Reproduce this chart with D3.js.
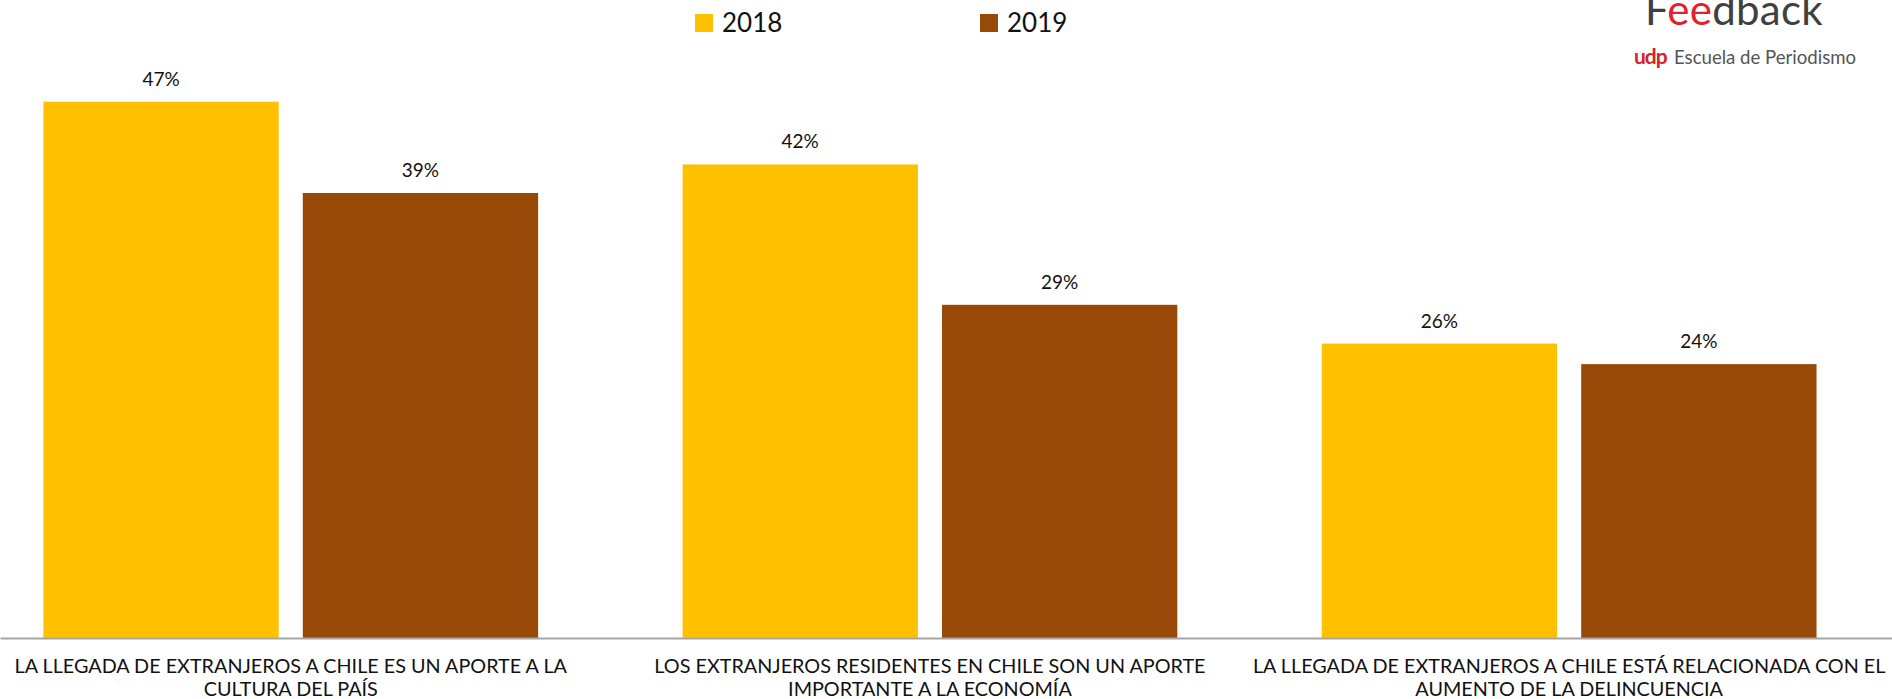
<!DOCTYPE html>
<html>
<head>
<meta charset="utf-8">
<script src="https://cdn.jsdelivr.net/npm/d3@7"></script>
<style>
  html, body { margin: 0; padding: 0; background: #fff; }
  svg { display: block; font-family: Lato, "Open Sans", sans-serif; }
</style>
</head>
<body>
<svg id="chart" width="1892" height="699"></svg>
<script>
// ---- data ----
const categories = [
  ["LA LLEGADA DE EXTRANJEROS A CHILE ES UN APORTE A LA", "CULTURA DEL PAÍS"],
  ["LOS EXTRANJEROS RESIDENTES EN CHILE SON UN APORTE", "IMPORTANTE A LA ECONOMÍA"],
  ["LA LLEGADA DE EXTRANJEROS A CHILE ESTÁ RELACIONADA CON EL", "AUMENTO DE LA DELINCUENCIA"]
];
const seriesNames = ["2018", "2019"];
const values2018 = [47, 41.5, 25.8];
const values2019 = [39, 29.2, 24];
const seriesColors = ["#FFC000", "#984807"];

// ---- layout ----
const W = 1892, H = 699;
const svg = d3.select("#chart");
const baseY = 638;

const x0 = d3.scaleBand()
  .domain(d3.range(categories.length))
  .range([-28.85, 1888.75])
  .paddingInner(0.226)
  .paddingOuter(0.113);

const x1 = d3.scaleBand()
  .domain(seriesNames)
  .range([0, x0.bandwidth()])
  .paddingInner(0.093)
  .paddingOuter(0);

const y = d3.scaleLinear().domain([0, 47]).range([baseY, 101.7]);

const rows = categories.map((c, i) => ({
  i,
  vals: [
    { s: seriesNames[0], v: values2018[i] },
    { s: seriesNames[1], v: values2019[i] }
  ]
}));
const color = d3.scaleOrdinal().domain(seriesNames).range(seriesColors);

const groups = svg.append("g").selectAll("g")
  .data(rows).join("g")
  .attr("transform", d => `translate(${x0(d.i)},0)`);

groups.selectAll("rect")
  .data(d => d.vals).join("rect")
  .attr("x", d => x1(d.s))
  .attr("width", x1.bandwidth())
  .attr("y", d => y(d.v))
  .attr("height", d => baseY - y(d.v))
  .attr("fill", d => color(d.s));

groups.selectAll("text.val")
  .data(d => d.vals).join("text")
  .attr("class", "val")
  .attr("x", d => x1(d.s) + x1.bandwidth() / 2)
  .attr("y", d => y(d.v) - 16)
  .attr("text-anchor", "middle")
  .attr("font-size", 19)
  .attr("fill", "#111")
  .text(d => Math.round(d.v) + "%");

// axis line
const xAxis = d3.axisBottom(d3.scaleLinear().range([0, W])).ticks(0).tickSize(0).tickFormat("");
const ax = svg.append("g").attr("transform", `translate(0,${baseY})`).call(xAxis);
ax.select(".domain").attr("stroke", "#A6A6A6").attr("stroke-width", 2);

// category labels
const labels = svg.append("g").selectAll("text")
  .data(categories).join("text")
  .attr("text-anchor", "middle")
  .attr("font-size", 19.8)
  .attr("fill", "#111")
  .attr("transform", (d, i) => `translate(${x0(i) + x0.bandwidth() / 2},672.5)`);
labels.selectAll("tspan")
  .data(d => d).join("tspan")
  .attr("x", 0)
  .attr("y", (d, j) => j * 23.5)
  .text(d => d);

// legend
const legendX = [695, 980];
const leg = svg.append("g").selectAll("g")
  .data(seriesNames).join("g")
  .attr("transform", (d, i) => `translate(${legendX[i]},14)`);
leg.append("rect").attr("width", 18).attr("height", 18).attr("fill", d => color(d));
leg.append("text").attr("x", 27).attr("y", 18).attr("font-size", 26).attr("fill", "#111").text(d => d);

// logo
const logo = svg.append("g");
const fb = logo.append("text").attr("x", 1645).attr("y", 25).attr("font-size", 42)
  .attr("letter-spacing", 0.3);
fb.append("tspan").attr("fill", "#404040").text("F");
fb.append("tspan").attr("fill", "#E3202D").text("ee");
fb.append("tspan").attr("fill", "#404040").text("dback");
logo.append("text").attr("x", 1634).attr("y", 64).attr("font-size", 21).attr("font-weight", 700)
  .attr("fill", "#D2232E").attr("letter-spacing", -1).text("udp");
logo.append("text").attr("x", 1674).attr("y", 64).attr("font-size", 18.6).attr("fill", "#555")
  .text("Escuela de Periodismo");
</script>
</body>
</html>
